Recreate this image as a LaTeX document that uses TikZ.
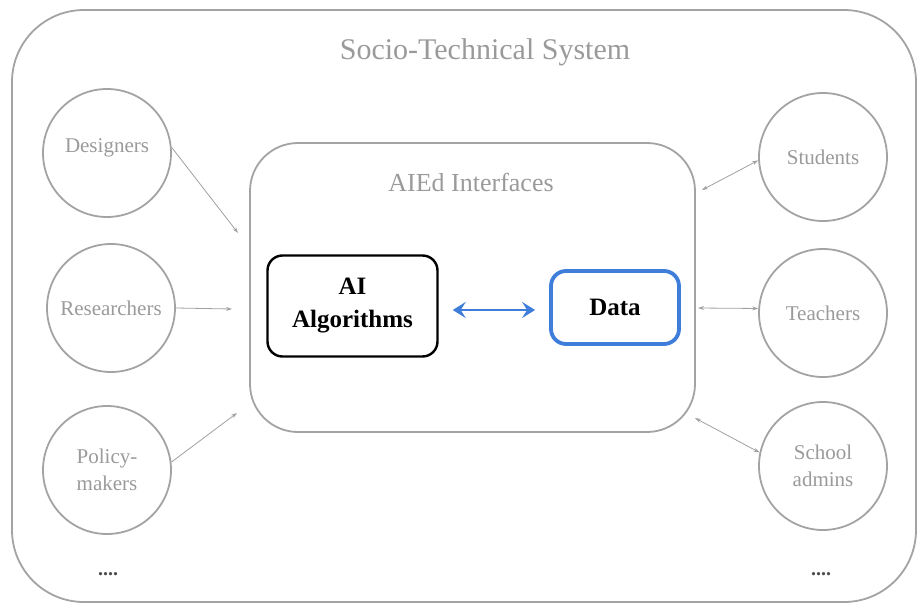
\documentclass[tikz,border=0pt]{standalone}
\usepackage{fontspec}
\setmainfont{Liberation Serif}
\usepackage{xcolor}
\usetikzlibrary{arrows.meta}
\usetikzlibrary{calc}

\definecolor{frame}{HTML}{A3A3A3}
\definecolor{labelgray}{HTML}{9A9A9A}
\definecolor{linkgray}{HTML}{A0A0A0}
\definecolor{datablue}{HTML}{3F7DDB}

\begin{document}
\begin{tikzpicture}[x=1pt, y=-1pt,
    actor/.style={circle, draw=frame, line width=1.8pt, minimum size=128pt, inner sep=0pt,
                  text=labelgray, align=center, font=\fontsize{21}{27}\selectfont},
    core/.style={rounded corners=15pt, line width=2.4pt, align=center,
                 font=\fontsize{25}{33}\selectfont\bfseries},
    link/.style={draw=linkgray, line width=0.8pt, -{Stealth[length=6pt,width=4pt]}},
    dlink/.style={link, {Stealth[length=6pt,width=4pt]}-{Stealth[length=6pt,width=4pt]}}]
    \useasboundingbox (0,0) rectangle (918,605);

    % Sistema exterior
    \draw[frame, line width=1.8pt, rounded corners=72pt] (12,10) rectangle (916,602);
    \node[text=labelgray, font=\fontsize{30}{36}\selectfont] (sts) at (485,52) {Socio-Technical System};

    % Interfaces
    \draw[frame, line width=1.8pt, rounded corners=48pt] (250,143) rectangle (695,432);
    \node[text=labelgray, font=\fontsize{26}{32}\selectfont] (ifc) at (471,182) {AIEd Interfaces};

    % Nucleo
    \node[core, draw=black, minimum width=170pt, minimum height=101pt] (algo) at (352.5,306) {AI\\Algorithms};
    \node[core, draw=datablue, line width=3.8pt, minimum width=128pt, minimum height=73pt] (data) at (615,307.5) {Data};
    \draw[datablue, line width=2.6pt, {Stealth[length=13pt,width=16pt,inset=5pt]}-{Stealth[length=13pt,width=16pt,inset=5pt]}]
        ($(algo.east)+(14,4)$) coordinate (ab) -- ($(data.west)+(-14,2.5)$) coordinate (db);

    % Actores
    \node[actor, text depth=14pt] (des) at (107,153) {Designers};
    \node[actor] (res) at (111,308) {Researchers};
    \node[actor] (pol) at (107,470) {Policy-\\makers};
    \node[actor] (stu) at (823,157) {Students};
    \node[actor] (tea) at (823,313) {Teachers};
    \node[actor] (adm) at (823,466) {School\\admins};

    % Puntos de llegada
    \coordinate (desin) at (238,233);
    \coordinate (resin) at (232,309);
    \coordinate (polin) at (237,413);
    \coordinate (stuin) at (702,190);
    \coordinate (teain) at (698,308);
    \coordinate (admin) at (695,418);

    % Flechas
    \draw[link] (des.5) -- (desin);
    \draw[link] (res.east) -- (resin);
    \draw[link] (pol.7) -- (polin);
    \draw[dlink] (stuin) -- (stu.183);
    \draw[dlink] (teain) -- (tea.176);
    \draw[dlink] (admin) -- (adm.168);

    % Otros
    \node[text=black!70, font=\fontsize{20}{22}\selectfont\bfseries] (more1) at (108,574) {....};
    \node[text=black!70, font=\fontsize{20}{22}\selectfont\bfseries] (more2) at (821,574) {....};
\end{tikzpicture}
\end{document}
